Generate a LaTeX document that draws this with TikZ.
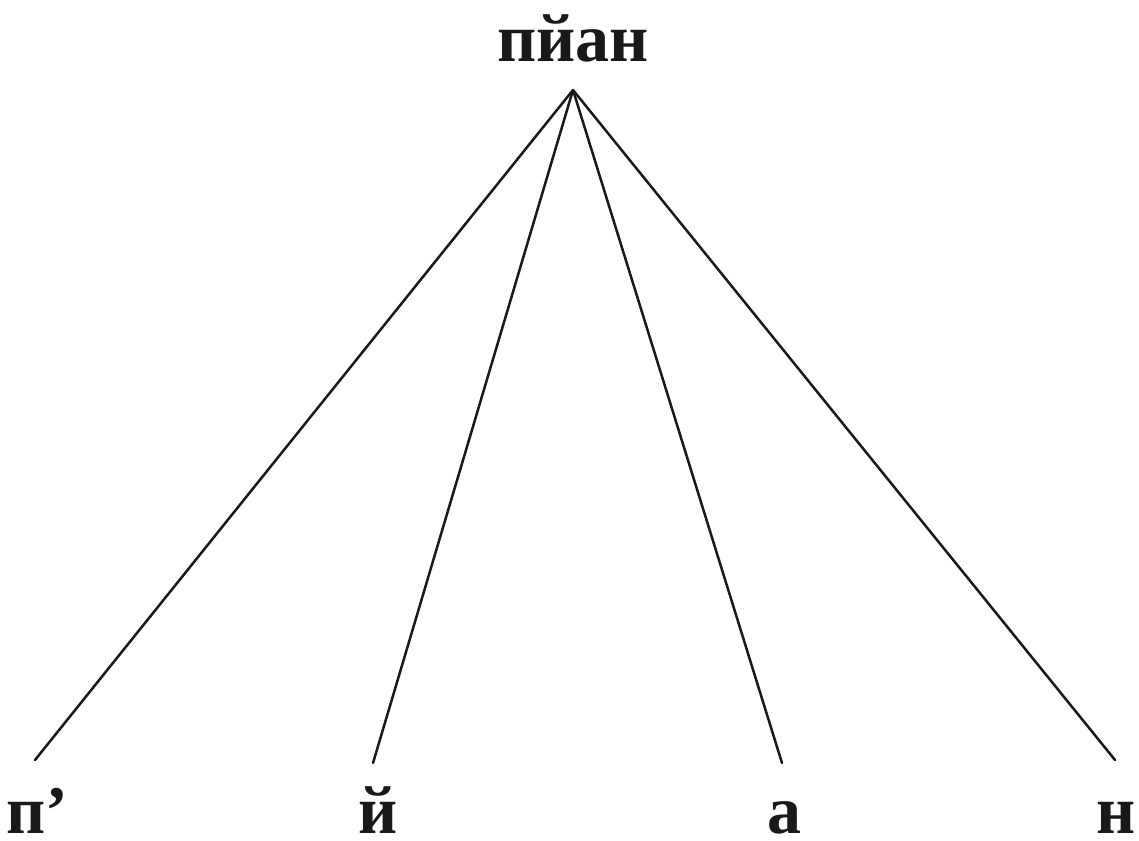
\documentclass[tikz,border=0pt]{standalone}
\usepackage{fontspec}
\setmainfont{Liberation Serif}
\begin{document}
\begin{tikzpicture}[x=1pt,y=-1pt,
  lbl/.style={font=\bfseries\fontsize{68}{80}\selectfont, inner sep=0pt, anchor=base, text=black!90, text depth=0pt},
  edge/.style={line width=2.5pt, black!90, line cap=round}]
\useasboundingbox (0,0) rectangle (1139,840);
\node[lbl] (root) at (573,62) {пйан};
\coordinate (apex) at (573,90);
\node[lbl] (l1) at (37,833) {п’};
\node[lbl] (l2) at (378,833) {й};
\node[lbl] (l3) at (784,833) {а};
\node[lbl] (l4) at (1116,833) {н};
\coordinate (e1) at (35,760);
\coordinate (e2) at (373,763);
\coordinate (e3) at (782,763);
\coordinate (e4) at (1115,760);
\draw[edge] (apex) -- (e1);
\draw[edge] (apex) -- (e2);
\draw[edge] (apex) -- (e3);
\draw[edge] (apex) -- (e4);
\end{tikzpicture}
\end{document}
